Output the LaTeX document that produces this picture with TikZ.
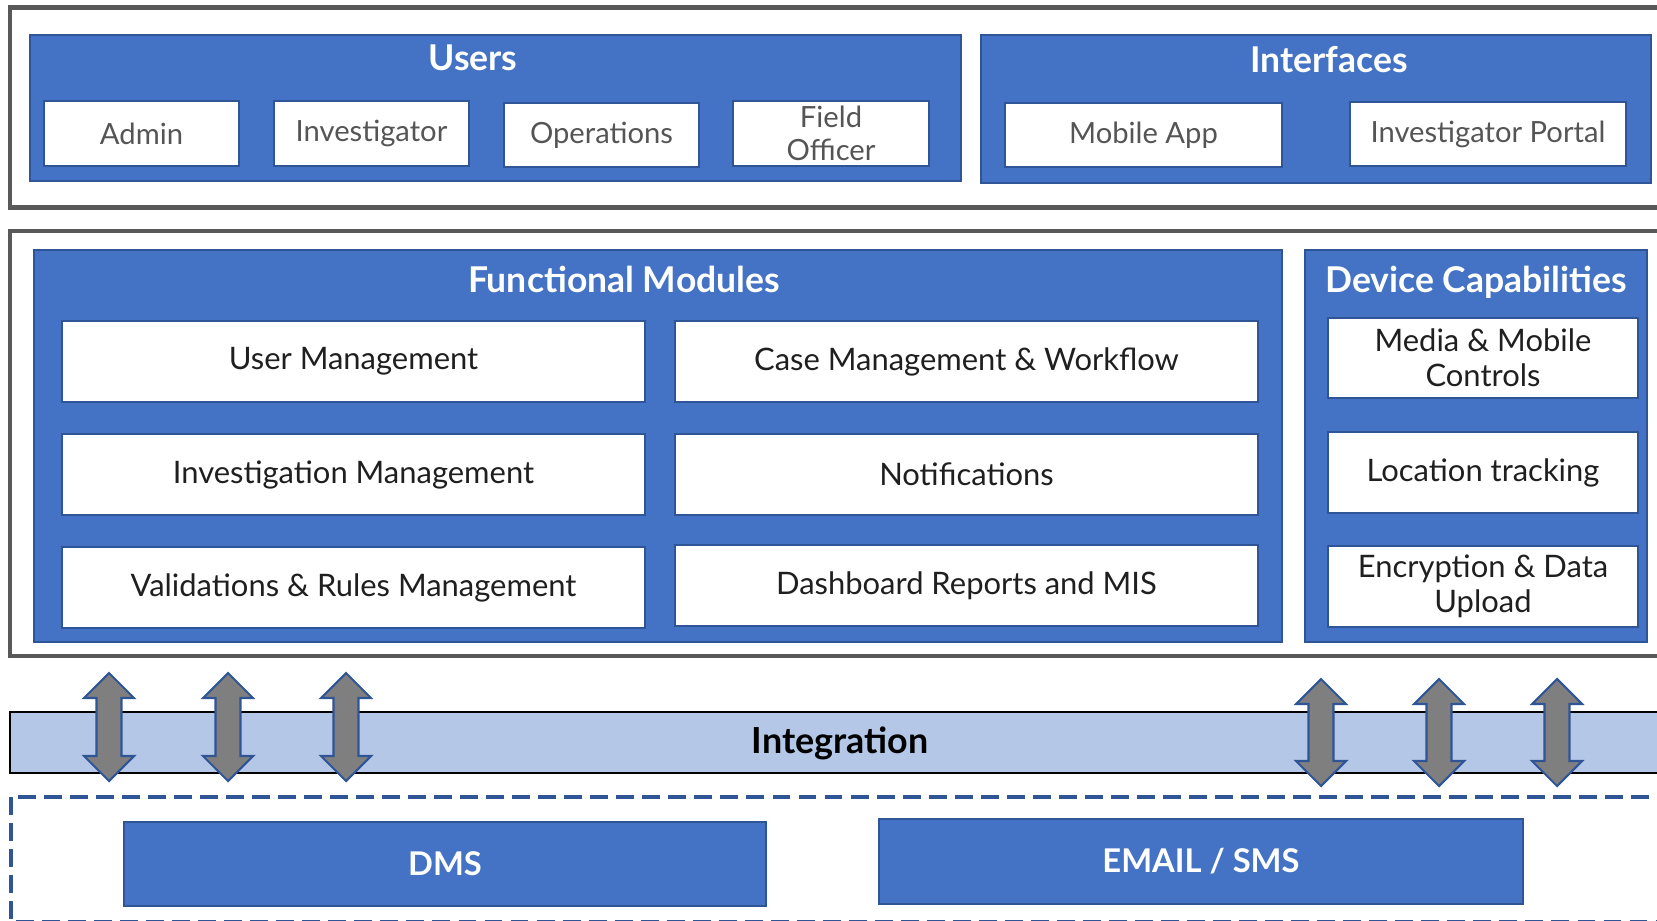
\documentclass[tikz,border=0pt]{standalone}
\usepackage{fontspec}
\setmainfont{Lato}
\usepackage{xcolor}
\usetikzlibrary{calc}
\definecolor{framegray}{HTML}{595959}
\definecolor{modblue}{HTML}{4472C4}
\definecolor{edgeblue}{HTML}{2F5597}
\definecolor{intblue}{HTML}{B4C7E7}
\definecolor{arrowgray}{HTML}{7F7F7F}
\definecolor{labelgray}{HTML}{555555}
\newcommand{\px}{0.01cm}
\newcommand{\pxnode}[7]{\node[#1, minimum width=#5*\px, minimum height=#6*\px] (#2) at (#3,#4) {#7};}
\newcommand{\intarrow}[3]{\draw[intarrow] (#1,#2) -- (#1+25,#2+25) -- (#1+12.5,#2+25) -- (#1+12.5,#3-25) -- (#1+25,#3-25) -- (#1,#3) -- (#1-25,#3-25) -- (#1-12.5,#3-25) -- (#1-12.5,#2+25) -- (#1-25,#2+25) -- cycle;}

\tikzset{
  frame/.style={draw=framegray, line width=1.4pt},
  panel/.style={draw=edgeblue, fill=modblue, line width=0.6pt, inner sep=0pt},
  entry/.style={draw=edgeblue, fill=white, line width=0.6pt, inner sep=0pt, align=center,
    text=labelgray, font=\fontsize{8.3}{9.4}\selectfont},
  module/.style={entry, text=black!88, font=\fontsize{8.8}{9.9}\selectfont},
  title/.style={text=white, font=\bfseries\fontsize{10.1}{12}\selectfont},
  sysbox/.style={panel, text=white, font=\bfseries\fontsize{9.3}{11}\selectfont},
  intarrow/.style={fill=arrowgray, draw=edgeblue, line width=0.6pt, line join=miter}
}

\begin{document}
\begin{tikzpicture}[x=\px, y=-\px]
	\useasboundingbox (0,0) rectangle (1657,921);
	\clip (0,0) rectangle (1657,921);

    % outer frames
    \draw[frame] (10,7.5) rectangle (1720,207.5);
    \draw[frame] (10,231) rectangle (1720,656);

    % users and interfaces
    \pxnode{panel}{users}{495.5}{108}{931}{146}{}
    \pxnode{panel}{interfaces}{1316}{109}{670}{148}{}
    \node[title] (userstitle) at (473,58) {Users};
    \node[title] (interfacestitle) at (1329,60) {Interfaces};
    \pxnode{entry}{admin}{141.5}{133.5}{195}{65}{Admin}
    \pxnode{entry}{investigator}{371.5}{133.5}{195}{65}{Investigator}
    \pxnode{entry}{operations}{601.5}{135}{195}{64}{Operations}
    \pxnode{entry}{fieldofficer}{831}{133.5}{196}{65}{Field\\Officer}
    \pxnode{entry}{mobileapp}{1143.5}{135}{277}{64}{Mobile App}
    \pxnode{entry}{portal}{1488}{134}{276}{64}{Investigator Portal}

    % functional modules
    \pxnode{panel}{modules}{658}{446}{1248}{392}{}
    \node[title] (modulestitle) at (624,279) {Functional Modules};
    \pxnode{module}{usermgmt}{353.5}{361.5}{583}{81}{User Management}
    \pxnode{module}{casemgmt}{966.5}{361.5}{583}{81}{Case Management \& Workflow}
    \pxnode{module}{invmgmt}{353.5}{474.5}{583}{81}{Investigation Management}
    \pxnode{module}{notifications}{966.5}{474.5}{583}{81}{Notifications}
    \pxnode{module}{rules}{353.5}{587.5}{583}{81}{Validations \& Rules Management}
    \pxnode{module}{dashboard}{966.5}{585.5}{583}{81}{Dashboard Reports and MIS}

    % device capabilities
    \pxnode{panel}{devices}{1476}{446}{342}{392}{}
    \node[title] (devicestitle) at (1476,282) {Device Capabilities};
    \pxnode{module}{media}{1483}{358}{310}{80}{Media \& Mobile\\Controls}
    \pxnode{module}{location}{1483}{472.5}{310}{81}{Location tracking}
    \pxnode{module}{encryption}{1483}{586.5}{310}{81}{Encryption \& Data\\Upload}

    % integration bar
    \draw[fill=intblue, draw=black, line width=0.7pt] (10,712) rectangle (1720,773);
    \node[font=\bfseries\fontsize{10.2}{12}\selectfont] (integration) at (840,743) {Integration};

    \intarrow{109}{673}{781}
    \intarrow{228}{673}{781}
    \intarrow{346}{673}{781}
    \intarrow{1321}{679}{786}
    \intarrow{1439}{679}{786}
    \intarrow{1557}{679}{786}

    % external systems
    \draw[draw=edgeblue, line width=1.4pt, dash pattern=on 5.1pt off 2.3pt] (11,797) rectangle (1720,922);
    \pxnode{sysbox}{dms}{445}{864}{642}{84}{DMS}
    \pxnode{sysbox}{emailsms}{1201}{861.5}{644}{85}{EMAIL / SMS}
    \end{tikzpicture}
\end{document}
